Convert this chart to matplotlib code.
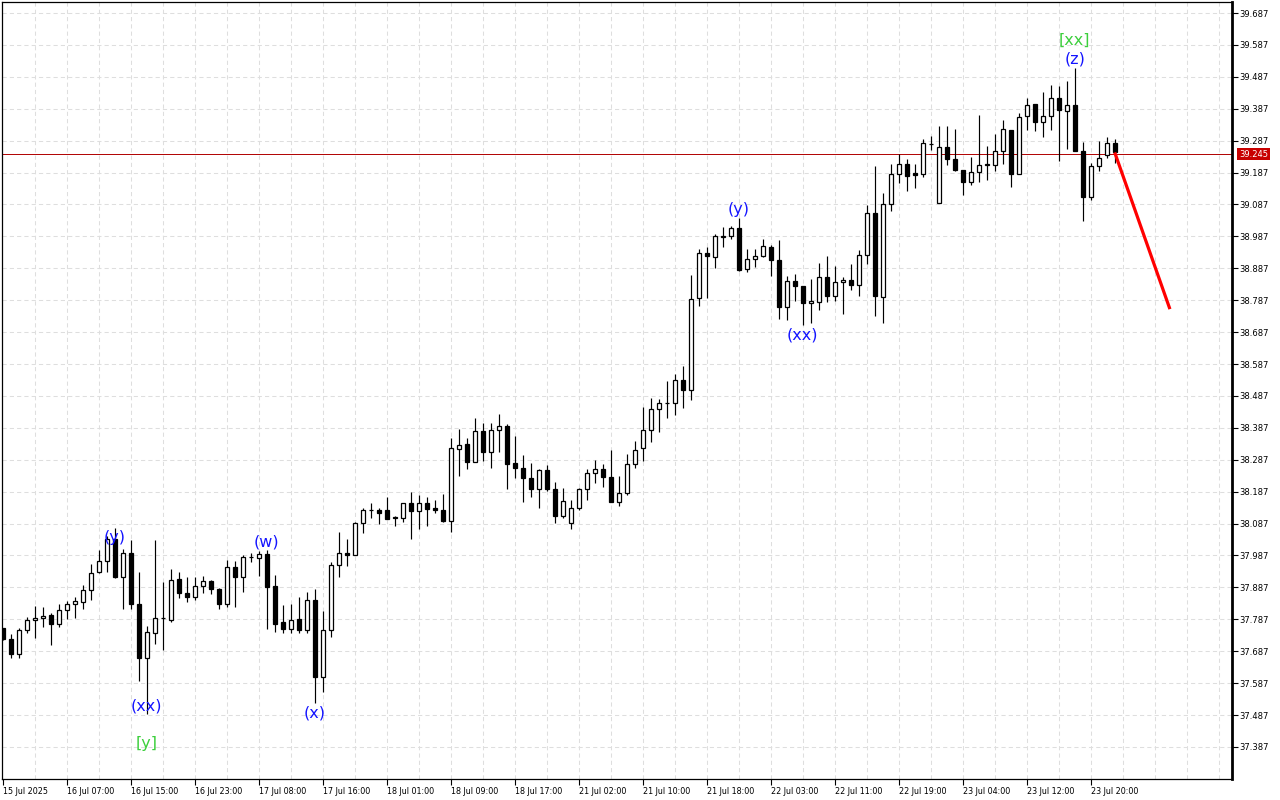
#!/usr/bin/env python3
"""Hourly candlestick chart with wave labels, recreated in matplotlib."""

from __future__ import annotations

import matplotlib

matplotlib.use("Agg")
import matplotlib.pyplot as plt
import numpy as np

# OHLC values of the 140 hourly bars, oldest first
OPENS = [
    37.759, 37.724, 37.678, 37.753, 37.784, 37.790, 37.799, 37.773, 37.815, 37.834,
    37.840, 37.878, 37.934, 37.971, 38.040, 37.921, 37.994, 37.834, 37.665, 37.743,
    37.790, 37.784, 37.912, 37.868, 37.858, 37.890, 37.907, 37.881, 37.834, 37.950,
    37.918, 37.981, 37.978, 37.991, 37.890, 37.777, 37.758, 37.787, 37.752, 37.846,
    37.606, 37.752, 37.956, 37.996, 37.990, 38.090, 38.128, 38.131, 38.128, 38.107,
    38.103, 38.150, 38.126, 38.150, 38.135, 38.131, 38.095, 38.321, 38.337, 38.281,
    38.378, 38.312, 38.381, 38.393, 38.278, 38.262, 38.231, 38.196, 38.256, 38.196,
    38.112, 38.090, 38.137, 38.196, 38.246, 38.259, 38.234, 38.155, 38.184, 38.274,
    38.324, 38.381, 38.446, 38.465, 38.465, 38.537, 38.506, 38.793, 38.934, 38.921,
    38.986, 38.987, 39.012, 38.884, 38.915, 38.924, 38.953, 38.912, 38.766, 38.846,
    38.831, 38.778, 38.781, 38.859, 38.799, 38.843, 38.850, 38.834, 38.928, 39.061,
    38.798, 39.087, 39.184, 39.215, 39.186, 39.181, 39.278, 39.093, 39.268, 39.228,
    39.196, 39.158, 39.189, 39.212, 39.212, 39.253, 39.321, 39.183, 39.365, 39.403,
    39.346, 39.365, 39.421, 39.381, 39.400, 39.256, 39.109, 39.206, 39.243, 39.281,
]
HIGHS = [
    37.760, 37.740, 37.759, 37.793, 37.828, 37.825, 37.806, 37.834, 37.843, 37.858,
    37.893, 37.960, 38.003, 38.049, 38.074, 38.006, 38.035, 37.936, 37.765, 38.035,
    37.904, 37.944, 37.934, 37.918, 37.918, 37.924, 37.910, 37.884, 37.972, 37.971,
    37.988, 37.995, 38.001, 38.004, 37.925, 37.831, 37.834, 37.856, 37.871, 37.881,
    37.812, 37.968, 38.059, 38.040, 38.093, 38.137, 38.153, 38.137, 38.169, 38.112,
    38.153, 38.187, 38.178, 38.169, 38.162, 38.181, 38.356, 38.384, 38.356, 38.418,
    38.403, 38.403, 38.429, 38.400, 38.362, 38.303, 38.278, 38.259, 38.271, 38.218,
    38.199, 38.162, 38.199, 38.259, 38.287, 38.274, 38.318, 38.237, 38.306, 38.346,
    38.453, 38.481, 38.478, 38.534, 38.556, 38.581, 38.865, 38.946, 38.953, 38.996,
    39.015, 39.021, 39.046, 38.949, 38.949, 38.978, 38.959, 38.975, 38.862, 38.868,
    38.831, 38.853, 38.903, 38.925, 38.893, 38.859, 38.899, 38.943, 39.084, 39.208,
    39.124, 39.215, 39.246, 39.228, 39.215, 39.291, 39.301, 39.332, 39.332, 39.323,
    39.196, 39.237, 39.366, 39.271, 39.309, 39.353, 39.321, 39.374, 39.421, 39.403,
    39.440, 39.460, 39.457, 39.473, 39.515, 39.282, 39.218, 39.285, 39.297, 39.291,
]
LOWS = [
    37.722, 37.667, 37.667, 37.743, 37.727, 37.764, 37.708, 37.764, 37.787, 37.790,
    37.818, 37.849, 37.931, 37.934, 37.915, 37.818, 37.818, 37.595, 37.489, 37.710,
    37.691, 37.777, 37.853, 37.840, 37.849, 37.868, 37.865, 37.818, 37.827, 37.827,
    37.874, 37.965, 37.923, 37.758, 37.748, 37.745, 37.745, 37.745, 37.743, 37.525,
    37.558, 37.733, 37.920, 37.955, 37.987, 38.058, 38.105, 38.086, 38.100, 38.080,
    38.093, 38.039, 38.070, 38.080, 38.120, 38.092, 38.061, 38.236, 38.259, 38.281,
    38.284, 38.262, 38.312, 38.195, 38.230, 38.155, 38.170, 38.136, 38.188, 38.089,
    38.103, 38.070, 38.128, 38.162, 38.215, 38.202, 38.155, 38.142, 38.177, 38.261,
    38.283, 38.343, 38.374, 38.418, 38.428, 38.448, 38.474, 38.770, 38.793, 38.887,
    38.953, 38.978, 38.878, 38.875, 38.890, 38.921, 38.864, 38.728, 38.725, 38.784,
    38.709, 38.715, 38.756, 38.781, 38.784, 38.743, 38.818, 38.799, 38.899, 38.738,
    38.715, 39.067, 39.153, 39.128, 39.139, 39.173, 39.259, 39.093, 39.212, 39.192,
    39.117, 39.148, 39.158, 39.164, 39.192, 39.215, 39.142, 39.183, 39.321, 39.318,
    39.298, 39.321, 39.224, 39.262, 39.256, 39.034, 39.102, 39.193, 39.234, 39.218,
]
CLOSES = [
    37.724, 37.678, 37.753, 37.784, 37.790, 37.796, 37.773, 37.815, 37.834, 37.843,
    37.878, 37.931, 37.971, 38.040, 37.919, 37.994, 37.836, 37.667, 37.746, 37.790,
    37.791, 37.909, 37.868, 37.858, 37.890, 37.907, 37.881, 37.834, 37.950, 37.918,
    37.981, 37.981, 37.991, 37.889, 37.773, 37.758, 37.784, 37.752, 37.846, 37.606,
    37.752, 37.956, 37.996, 37.990, 38.090, 38.128, 38.131, 38.120, 38.100, 38.103,
    38.150, 38.126, 38.150, 38.133, 38.131, 38.095, 38.325, 38.334, 38.281, 38.378,
    38.312, 38.381, 38.392, 38.273, 38.261, 38.230, 38.196, 38.256, 38.196, 38.112,
    38.159, 38.137, 38.196, 38.246, 38.259, 38.233, 38.155, 38.184, 38.274, 38.318,
    38.381, 38.446, 38.465, 38.464, 38.537, 38.506, 38.790, 38.934, 38.924, 38.987,
    38.987, 39.012, 38.881, 38.915, 38.924, 38.956, 38.912, 38.767, 38.846, 38.831,
    38.778, 38.784, 38.859, 38.799, 38.843, 38.850, 38.834, 38.928, 39.059, 38.801,
    39.087, 39.184, 39.215, 39.177, 39.180, 39.281, 39.278, 39.268, 39.228, 39.195,
    39.158, 39.189, 39.212, 39.213, 39.253, 39.324, 39.183, 39.362, 39.400, 39.346,
    39.365, 39.421, 39.384, 39.400, 39.256, 39.109, 39.206, 39.234, 39.281, 39.250,
]

CURRENT_PRICE = 39.245
PRICE_TICKS = [round(37.387 + 0.1 * k, 3) for k in range(24)]

TIME_LABELS = [
    "15 Jul 2025", "16 Jul 07:00", "16 Jul 15:00", "16 Jul 23:00", "17 Jul 08:00",
    "17 Jul 16:00", "18 Jul 01:00", "18 Jul 09:00", "18 Jul 17:00", "21 Jul 02:00",
    "21 Jul 10:00", "21 Jul 18:00", "22 Jul 03:00", "22 Jul 11:00", "22 Jul 19:00",
    "23 Jul 04:00", "23 Jul 12:00", "23 Jul 20:00",
]
TIME_LABEL_BARS = [8 * k for k in range(len(TIME_LABELS))]

# wave labels: text, bar index, price level, colour key
WAVE_TEXT = ["(y)", "(xx)", "[y]", "(w)", "(x)", "(y)", "(xx)", "[xx]", "(z)"]
WAVE_BAR = [14, 18, 18, 33, 39, 92, 100, 134, 134]
WAVE_PRICE = [38.042, 37.515, 37.399, 38.029, 37.493, 39.070, 38.678, 39.602, 39.543]
WAVE_KIND = ["minor", "minor", "major", "minor", "minor", "minor", "minor", "major", "minor"]

# projected move drawn from the last bar
FORECAST_BARS = [139, 145.9]
FORECAST_PRICES = [39.250, 38.759]

COLORS = {"minor": "#1414ff", "major": "#3ccf3c"}
GRID_COLOR = "#dedede"


def draw_candles(ax) -> None:
    x = np.arange(len(OPENS))
    o = np.array(OPENS)
    h = np.array(HIGHS)
    lo = np.array(LOWS)
    c = np.array(CLOSES)
    ax.vlines(x, lo, h, color="black", linewidth=0.85, zorder=2)
    up = c >= o
    bottom = np.minimum(o, c)
    height = np.abs(c - o)
    ax.bar(x[up], height[up], bottom=bottom[up], width=0.5,
           facecolor="white", edgecolor="black", linewidth=0.9, zorder=3)
    ax.bar(x[~up], height[~up], bottom=bottom[~up], width=0.5,
           facecolor="black", edgecolor="black", linewidth=0.9, zorder=3)


def main() -> int:
    fig = plt.figure(figsize=(12.8, 8.0), dpi=100)
    ax = fig.add_axes([2 / 1280, 21 / 800, 1230 / 1280, 777 / 800])

    ax.set_xlim(-0.09, 153.66)
    ax.set_ylim(37.2865, 39.7215)

    for gx in range(4, 154, 4):
        ax.axvline(gx, color=GRID_COLOR, linewidth=0.75, linestyle=(0, (4, 3)), zorder=0)
    for gy in PRICE_TICKS:
        ax.axhline(gy, color=GRID_COLOR, linewidth=0.75, linestyle=(0, (4, 3)), zorder=0)

    ax.axhline(CURRENT_PRICE, color="#b00000", linewidth=0.7, zorder=1)

    draw_candles(ax)

    ax.plot(FORECAST_BARS, FORECAST_PRICES, color="#ff0000", linewidth=2.3,
            solid_capstyle="butt", zorder=4)

    for text, bar, price, kind in zip(WAVE_TEXT, WAVE_BAR, WAVE_PRICE, WAVE_KIND):
        ax.text(bar, price, text, color=COLORS[kind], fontsize=11.5,
                ha="center", va="center", zorder=5)

    ax.yaxis.tick_right()
    ax.set_yticks(PRICE_TICKS)
    ax.set_yticklabels([f"{t:.3f}" for t in PRICE_TICKS], fontsize=6)
    ax.tick_params(axis="y", direction="out", length=4, width=0.8, pad=1.5)

    ax.set_xticks(TIME_LABEL_BARS)
    ax.set_xticklabels(TIME_LABELS, fontsize=5.8, ha="left")
    ax.tick_params(axis="x", direction="out", length=4, width=0.8, pad=1.5)

    for name, spine in ax.spines.items():
        spine.set_color("black")
        spine.set_linewidth(2.0 if name == "right" else 0.9)

    ax.annotate(
        f"{CURRENT_PRICE:.3f}",
        xy=(1.0, CURRENT_PRICE),
        xycoords=("axes fraction", "data"),
        xytext=(5, 0),
        textcoords="offset points",
        ha="left",
        va="center",
        fontsize=6,
        color="white",
        bbox=dict(boxstyle="square,pad=0.2", facecolor="#c80000", edgecolor="none"),
        annotation_clip=False,
    )

    fig.savefig("out.png", dpi=100)
    plt.close(fig)
    return 0


if __name__ == "__main__":
    raise SystemExit(main())
